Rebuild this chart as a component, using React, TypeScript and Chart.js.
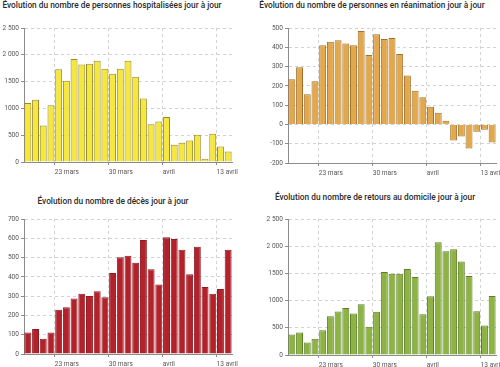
import React, { useEffect, useRef } from 'react';
import { Chart, registerables } from 'chart.js';

Chart.register(...registerables);

const categories = [
  '19 mars', '20 mars', '21 mars', '22 mars', '23 mars', '24 mars', '25 mars', '26 mars', '27 mars',
  '28 mars', '29 mars', '30 mars', '31 mars', '1 avril', '2 avril', '3 avril', '4 avril', '5 avril',
  '6 avril', '7 avril', '8 avril', '9 avril', '10 avril', '11 avril', '12 avril', '13 avril', '14 avril',
];

const xTickLabels: Record<string, string> = {
  '23 mars': '23 mars',
  '30 mars': '30 mars',
  '6 avril': 'avril',
  '13 avril': '13 avril',
};

const hospitalises = [1100, 1160, 680, 1060, 1730, 1515, 1920, 1820, 1835, 1890, 1740, 1645, 1740, 1890, 1590, 1185, 705, 755, 840, 320, 360, 400, 510, 62, 525, 290, 198];
const reanimation = [234, 297, 156, 224, 410, 429, 436, 420, 410, 485, 360, 467, 443, 448, 365, 254, 174, 141, 92, 61, 19, -83, -63, -125, -38, -28, -94];
const deces = [111, 130, 79, 111, 229, 243, 288, 313, 301, 325, 294, 420, 502, 510, 473, 591, 440, 360, 606, 596, 541, 414, 556, 348, 313, 337, 541];
const retours = [378, 415, 232, 299, 457, 713, 799, 866, 762, 933, 518, 793, 1524, 1494, 1494, 1579, 1433, 750, 1079, 2073, 1909, 1945, 1720, 1451, 805, 543, 1085];

const yLabelsThousands = ['0', '500', '1000', '1500', '2 000', '2 500'];
const yLabelsRea = ['-200', '-100', '0', '100', '200', '300', '400', '500'];
const yLabelsDeces = ['0', '100', '200', '300', '400', '500', '600', '700'];

const FONT = 'Roboto, "DejaVu Sans", sans-serif';
const GRID = '#d2d2d2';
const AXIS = '#8c8c8c';
const TICK = '#555555';

type PanelProps = {
  left: number;
  top: number;
  height: number;
  padTop: number;
  values: number[];
  fill: string;
  stroke: string;
  yMin: number;
  yMax: number;
  yStep: number;
  yLabels: string[];
};

function BarPanel(p: PanelProps) {
  const ref = useRef<HTMLCanvasElement>(null);
  useEffect(() => {
    const labeled = (i: number) => !!xTickLabels[categories[i]];
    const chart = new Chart(ref.current as HTMLCanvasElement, {
      type: 'bar',
      data: {
        labels: categories,
        datasets: [
          {
            data: p.values,
            backgroundColor: p.fill,
            borderColor: p.stroke,
            borderWidth: 1,
            barPercentage: 0.9,
            categoryPercentage: 1,
          },
        ],
      },
      options: {
        responsive: false,
        animation: false,
        devicePixelRatio: 1,
        layout: { padding: { top: p.padTop, right: 18, left: 0, bottom: 0 } },
        plugins: {
          legend: { display: false },
          title: { display: false },
          tooltip: { enabled: false },
        },
        scales: {
          x: {
            type: 'category',
            offset: true,
            grid: {
              offset: true,
              color: (ctx: any) => (labeled(ctx.index) ? GRID : 'rgba(0,0,0,0)'),
              tickColor: (ctx: any) => (labeled(ctx.index) ? AXIS : 'rgba(0,0,0,0)'),
              tickLength: 3,
              lineWidth: 1,
            },
            border: { display: true, color: AXIS, width: 1, dash: [3, 3] },
            ticks: {
              autoSkip: false,
              maxRotation: 0,
              minRotation: 0,
              align: 'start',
              labelOffset: -3.85,
              padding: 3,
              color: TICK,
              font: { size: 6.6, family: FONT },
              callback: (_v: any, i: number) => xTickLabels[categories[i]] ?? '',
            },
            afterFit: (s: any) => {
              s.height = 21;
            },
          },
          y: {
            min: p.yMin,
            max: p.yMax,
            grid: { color: GRID, tickColor: AXIS, tickLength: 3, lineWidth: 1 },
            border: { display: true, color: AXIS, width: 1, dash: [3, 3] },
            ticks: {
              stepSize: p.yStep,
              padding: 2,
              color: TICK,
              font: { size: 6.6, family: FONT },
              callback: (_v: any, i: number) => p.yLabels[i],
            },
            afterFit: (s: any) => {
              s.width = 24;
            },
          },
        },
      },
    } as any);
    return () => chart.destroy();
  }, []);
  return (
    <canvas
      ref={ref}
      width={250}
      height={p.height}
      style={{ position: 'absolute', left: p.left, top: p.top, width: 250, height: p.height }}
    />
  );
}

function Title({ text, center, top }: { text: string; center: number; top: number }) {
  return (
    <div
      style={{
        position: 'absolute',
        left: center - 150,
        top,
        width: 300,
        textAlign: 'center',
        fontFamily: FONT,
        fontSize: '8.3px',
        lineHeight: '10px',
        fontWeight: 500,
        color: '#2b2b2b',
        whiteSpace: 'nowrap',
      }}
    >
      {text}
    </div>
  );
}

export default function App() {
  return (
    <div
      style={{
        position: 'absolute',
        left: 0,
        top: 0,
        width: 500,
        height: 367,
        overflow: 'hidden',
        background: '#ffffff',
      }}
    >
      <Title text="Évolution du nombre de personnes hospitalisées jour à jour" center={112} top={0} />
      <Title text="Évolution du nombre de personnes en réanimation jour à jour" center={372} top={0} />
      <Title text="Évolution du nombre de décès jour à jour" center={113} top={196} />
      <Title text="Évolution du nombre de retours au domicile jour à jour" center={375} top={192} />
      <BarPanel left={0} top={0} height={183} padTop={28} values={hospitalises} fill="#f6e73c" stroke="#968a2e" yMin={0} yMax={2500} yStep={500} yLabels={yLabelsThousands} />
      <BarPanel left={264} top={0} height={184} padTop={28} values={reanimation} fill="#e3a74c" stroke="#a0722f" yMin={-200} yMax={500} yStep={100} yLabels={yLabelsRea} />
      <BarPanel left={0} top={190} height={185} padTop={29} values={deces} fill="#b3222a" stroke="#8e1b22" yMin={0} yMax={700} yStep={100} yLabels={yLabelsDeces} />
      <BarPanel left={264} top={190} height={186} padTop={29} values={retours} fill="#8db443" stroke="#5e7e2b" yMin={0} yMax={2500} yStep={500} yLabels={yLabelsThousands} />
    </div>
  );
}
